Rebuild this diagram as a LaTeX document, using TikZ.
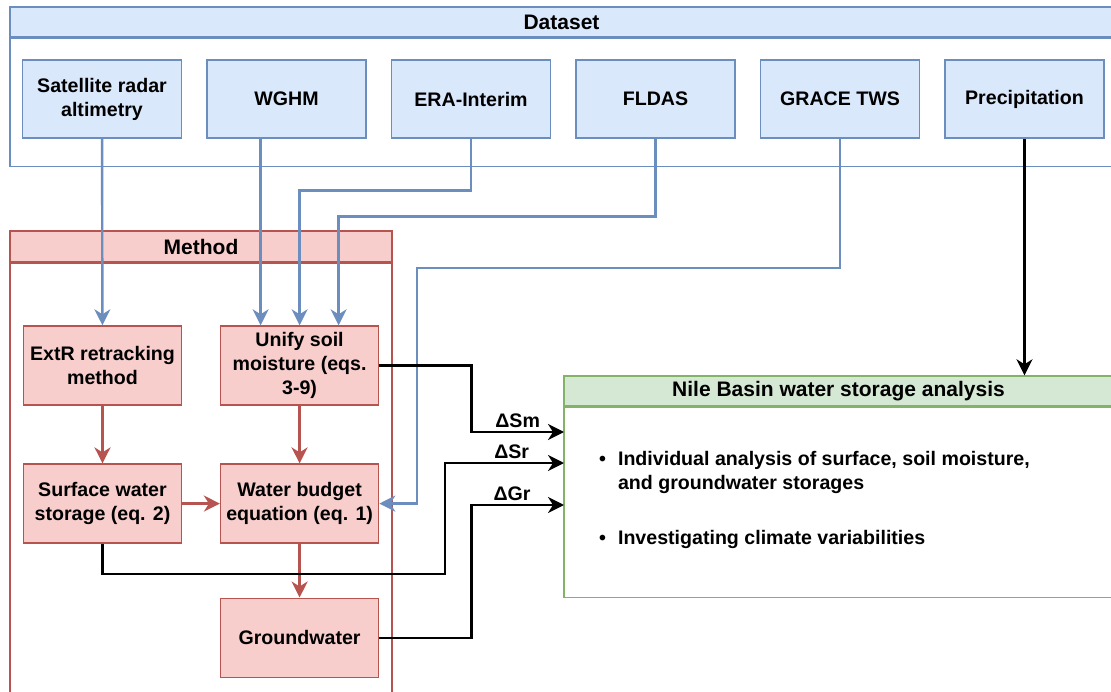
\documentclass[tikz,border=0pt]{standalone}
\usepackage{fontspec}
\setmainfont{Liberation Sans}
\usetikzlibrary{arrows.meta,positioning}
\definecolor{dsfill}{HTML}{DAE8FC}
\definecolor{dsline}{HTML}{6C8EBF}
\definecolor{mtfill}{HTML}{F8CECC}
\definecolor{mtline}{HTML}{B85450}
\definecolor{nbfill}{HTML}{D5E8D4}
\definecolor{nbline}{HTML}{82B366}

\begin{document}
\begin{tikzpicture}[
x=1pt, y=-1pt,
font=\fontsize{19.6}{24}\selectfont\bfseries,
node distance=57.7pt and 37.7pt,
src/.style={draw=dsline, fill=dsfill, line width=1.4pt, align=center, minimum width=159pt, minimum height=78pt, inner sep=0pt},
mbox/.style={draw=mtline, fill=mtfill, line width=1.4pt, align=center, minimum width=158pt, minimum height=79pt, inner sep=0pt},
head/.style={line width=1.4pt, minimum height=30pt, inner sep=0pt, font=\fontsize{21}{24}\selectfont\bfseries},
body/.style={line width=1.4pt, inner sep=0pt},
conn/.style={-{Stealth[length=16pt,width=16pt,inset=5pt]}, line width=2.4pt},
barrow/.style={conn, dsline},
rarrow/.style={conn, mtline},
karrow/.style={conn, black},
lab/.style={above, inner sep=3pt}
]
\useasboundingbox (0,0) rectangle (1111,692);

% containers
\node[head, draw=dsline, fill=dsfill, minimum width=1103pt] (dsethead) at (561.5,22) {Dataset};
\node[body, draw=dsline, minimum width=1103pt, minimum height=128pt, below=0pt of dsethead] (dsetbody) {};
\node[head, draw=mtline, fill=mtfill, minimum width=382pt, minimum height=31pt] (methhead) at (201,246.5) {Method};
\node[body, draw=mtline, minimum width=382pt, minimum height=440pt, below=0pt of methhead] (methbody) {};
\node[head, draw=nbline, fill=nbfill, minimum width=549pt] (nilehead) at (838.5,391) {Nile Basin water storage analysis};
\node[body, draw=nbline, minimum width=549pt, minimum height=190pt, below=0pt of nilehead] (nilebody) {};

% data sources
\node[src] (sat) at (102,99) {Satellite radar\\altimetry};
\node[src, right=24.1pt of sat] (wghm) {WGHM};
\node[src, right=24.1pt of wghm] (era) {ERA-Interim};
\node[src, right=24.1pt of era] (fldas) {FLDAS};
\node[src, right=24.1pt of fldas] (grace) {GRACE TWS};
\node[src, right=24.1pt of grace] (precip) {Precipitation};

% method steps
\node[mbox] (extr) at (102.5,365.5) {ExtR retracking\\method};
\node[mbox, right=of extr] (unify) {Unify soil\\moisture (eqs.\\3-9)};
\node[mbox, below=of extr] (surf) {Surface water\\storage (eq. 2)};
\node[mbox, below=of unify] (wb) {Water budget\\equation (eq. 1)};
\node[mbox, below=53.7pt of wb] (gw) {Groundwater};

% analysis items
\node[align=left, anchor=north west, inner sep=0pt] (items) at (599,451)
  {\textbullet\hspace{12pt}Individual analysis of surface, soil moisture,\\
   \phantom{\textbullet}\hspace{12pt}and groundwater storages\\[31pt]
   \textbullet\hspace{12pt}Investigating climate variabilities};

\coordinate (sm) at (564,432);
\coordinate (sr) at (564,463);
\coordinate (gr) at (564,505);
\coordinate (gracebend) at (417,268);
\coordinate (wghmin) at ([xshift=-39pt]unify.north);
\coordinate (fldasin) at ([xshift=39pt]unify.north);

% inputs
\draw[barrow] (sat) -- (extr);
\draw[barrow] (wghm.south -| wghmin) -- (wghmin);
\draw[barrow] (era.south) -- ++(0,52) -| (unify.north);
\draw[barrow] (fldas.south) -- ++(0,78) -| (fldasin);
\draw[barrow] (grace.south) |- (gracebend) |- (wb.east);
\draw[karrow] (precip.south) -- (precip.south |- nilehead.north);

% method flow
\draw[rarrow] (extr) -- (surf);
\draw[rarrow] (unify) -- (wb);
\draw[rarrow] (surf) -- (wb);
\draw[rarrow] (wb) -- (gw);

% storage changes
\draw[karrow] (unify.east) -- ++(92,0) |- node[lab, pos=0.75] {ΔSm} (sm);
\draw[karrow] (surf.south) |- (445,574) |- node[lab, pos=0.78] {ΔSr} (sr);
\draw[karrow] (gw.east) -- ++(92,0) |- node[lab, pos=0.72] {ΔGr} (gr);
\end{tikzpicture}
\end{document}
